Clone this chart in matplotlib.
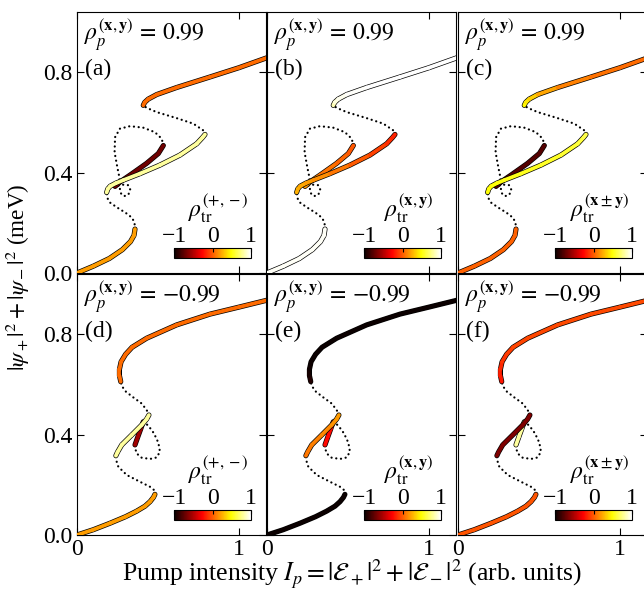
import matplotlib
matplotlib.use("Agg")
import matplotlib.pyplot as plt
from matplotlib.collections import LineCollection
from matplotlib.cm import ScalarMappable
from matplotlib.colors import Normalize

plt.rcParams['font.family'] = ['Liberation Serif', 'DejaVu Serif']
plt.rcParams['mathtext.fontset'] = 'stix'
plt.rcParams['font.size'] = 17

# ---- branch geometry, rho_p = +0.99 (top row) ----
low_x_p = [0.0, 0.10, 0.20, 0.28, 0.33, 0.352, 0.358]
low_y_p = [0.0, 0.027, 0.058, 0.093, 0.125, 0.150, 0.175]
dl_x_p = [0.358, 0.355, 0.340, 0.300, 0.250, 0.205, 0.186, 0.183]
dl_y_p = [0.175, 0.200, 0.220, 0.240, 0.260, 0.280, 0.300, 0.321]
mid_x_p = [0.183, 0.190, 0.205, 0.240, 0.286, 0.389, 0.512, 0.636, 0.739, 0.775, 0.790]
mid_y_p = [0.321, 0.335, 0.346, 0.358, 0.370, 0.396, 0.430, 0.470, 0.515, 0.540, 0.552]
du_x_p = [0.790, 0.780, 0.718, 0.615, 0.492, 0.430, 0.409]
du_y_p = [0.552, 0.568, 0.595, 0.617, 0.641, 0.658, 0.668]
up_x_p = [0.409, 0.418, 0.440, 0.492, 0.615, 0.821, 1.00, 1.17]
up_y_p = [0.668, 0.680, 0.693, 0.711, 0.739, 0.781, 0.818, 0.857]
iso_x_p = [0.235, 0.270, 0.327, 0.430, 0.502, 0.533]
iso_y_p = [0.345, 0.365, 0.390, 0.437, 0.476, 0.508]
di_x_p = [0.533, 0.523, 0.481, 0.409, 0.327, 0.265, 0.235, 0.232, 0.249, 0.262,
          0.262, 0.270, 0.290, 0.317, 0.329, 0.315, 0.280, 0.235]
di_y_p = [0.508, 0.535, 0.561, 0.579, 0.585, 0.575, 0.541, 0.481, 0.421, 0.380,
          0.345, 0.318, 0.306, 0.312, 0.332, 0.350, 0.352, 0.345]

# ---- branch geometry, rho_p = -0.99 (bottom row) ----
low_x_m = [0.0, 0.10, 0.204, 0.30, 0.368, 0.420, 0.451, 0.472, 0.481]
low_y_m = [0.0, 0.021, 0.047, 0.073, 0.095, 0.115, 0.133, 0.150, 0.162]
dl_x_m = [0.481, 0.474, 0.451, 0.389, 0.307, 0.255, 0.241, 0.240]
dl_y_m = [0.162, 0.180, 0.192, 0.212, 0.239, 0.272, 0.300, 0.316]
mid_x_m = [0.240, 0.250, 0.276, 0.337, 0.399, 0.430, 0.444]
mid_y_m = [0.316, 0.330, 0.359, 0.398, 0.438, 0.462, 0.478]
du_x_m = [0.444, 0.430, 0.399, 0.348, 0.302, 0.276, 0.270]
du_y_m = [0.478, 0.498, 0.524, 0.548, 0.571, 0.594, 0.611]
up_x_m = [0.270, 0.262, 0.262, 0.272, 0.300, 0.340, 0.430, 0.615, 0.821, 1.00, 1.17]
up_y_m = [0.611, 0.635, 0.660, 0.690, 0.720, 0.748, 0.784, 0.837, 0.880, 0.908, 0.935]
iso_x_m = [0.358, 0.375, 0.392, 0.409]
iso_y_m = [0.359, 0.390, 0.420, 0.451]
di_x_m = [0.409, 0.440, 0.475, 0.502, 0.512, 0.492, 0.451, 0.399, 0.368, 0.358, 0.358]
di_y_m = [0.451, 0.436, 0.405, 0.368, 0.332, 0.309, 0.303, 0.308, 0.325, 0.349, 0.359]

# ---- rho_tr values along each stable branch (scalar = uniform) ----
rho_a = dict(low=0.2, mid=0.8, up=0.05, iso=-0.7)
rho_b = dict(low=0.98,
             mid=[0.25, 0.25, 0.24, 0.22, 0.18, 0.12, 0.04, -0.05, -0.12, -0.16, -0.18],
             up=[0.8, 0.9, 0.95, 0.98, 1.0, 1.0, 1.0, 1.0],
             iso=[0.2, 0.15, 0.1, 0.05, 0.0, -0.02])
rho_c = dict(low=0.02,
             mid=[0.5, 0.5, 0.5, 0.5, 0.52, 0.55, 0.55, 0.58, 0.6, 0.62, 0.65],
             up=[0.5, 0.45, 0.4, 0.3, 0.15, 0.08, 0.05, 0.05],
             iso=-0.78)
rho_d = dict(low=0.2, mid=0.8, up=0.05, iso=-0.55)
rho_e = dict(low=-1.0,
             mid=[0.08, 0.08, 0.1, 0.12, 0.15, 0.18, 0.2],
             up=[-0.9, -0.95, -0.98, -1.0, -1.0, -1.0, -1.0, -1.0, -1.0, -1.0, -1.0],
             iso=-0.25)
rho_f = dict(low=-0.02, mid=-0.65,
             up=[-0.22, -0.2, -0.17, -0.14, -0.1, -0.08, -0.06, -0.05, -0.05, -0.05, -0.05],
             iso=0.8)

panel_letters = ['(a)', '(b)', '(c)', '(d)', '(e)', '(f)']
rho_p_text = [r'$\rho_p^{(\mathbf{x},\mathbf{y})}\,=\,0.99$',
              r'$\rho_p^{(\mathbf{x},\mathbf{y})}\,=\,{-}0.99$']
cbar_labels = [r'$\rho_{\rm tr}^{(+,-)}$', r'$\rho_{\rm tr}^{(\mathbf{x},\mathbf{y})}$',
               r'$\rho_{\rm tr}^{(\mathbf{x}\pm\mathbf{y})}$']

geom_p = dict(low=(low_x_p, low_y_p), dl=(dl_x_p, dl_y_p), mid=(mid_x_p, mid_y_p),
              du=(du_x_p, du_y_p), up=(up_x_p, up_y_p), iso=(iso_x_p, iso_y_p),
              di=(di_x_p, di_y_p))
geom_m = dict(low=(low_x_m, low_y_m), dl=(dl_x_m, dl_y_m), mid=(mid_x_m, mid_y_m),
              du=(du_x_m, du_y_m), up=(up_x_m, up_y_m), iso=(iso_x_m, iso_y_m),
              di=(di_x_m, di_y_m))

cmap = plt.get_cmap('hot')
norm = Normalize(-1, 1)


def stable(ax, x, y, c):
    if not isinstance(c, list):
        c = [c] * len(x)
    ax.plot(x, y, color='k', lw=3.7, solid_capstyle='round', solid_joinstyle='round', zorder=3)
    segs = [[(x[i], y[i]), (x[i + 1], y[i + 1])] for i in range(len(x) - 1)]
    cv = [(c[i] + c[i + 1]) / 2 for i in range(len(x) - 1)]
    lc = LineCollection(segs, cmap=cmap, norm=norm, linewidths=2.7, capstyle='round', zorder=3)
    lc.set_array(cv)
    ax.add_collection(lc)


def unstable(ax, x, y):
    ax.plot(x, y, color='k', lw=1.6, ls=(0, (0.05, 2.1)), dash_capstyle='round', zorder=2)


W, H = 644, 591
lefts = [77, 267, 458]
tops = [12, 274]
pw, ph = 189, 261

fig = plt.figure(figsize=(W / 100, H / 100), dpi=100)
rhos = [rho_a, rho_b, rho_c, rho_d, rho_e, rho_f]

for r in range(2):
    geom = geom_p if r == 0 else geom_m
    for col in range(3):
        k = r * 3 + col
        ax = fig.add_axes([lefts[col] / W, 1 - (tops[r] + ph) / H, pw / W, ph / H])
        rho = rhos[k]
        unstable(ax, *geom['dl'])
        unstable(ax, *geom['du'])
        unstable(ax, *geom['di'])
        stable(ax, *geom['low'], rho['low'])
        stable(ax, *geom['iso'], rho['iso'])
        stable(ax, *geom['mid'], rho['mid'])
        stable(ax, *geom['up'], rho['up'])

        ax.set_xlim(0, pw / 162)
        ax.set_ylim(0, ph / 251)
        ax.set_xticks([0, 1])
        ax.set_yticks([0, 0.4, 0.8])
        ax.tick_params(direction='in', top=True, right=True, length=5, width=0.8,
                       labelsize=17, pad=3)
        if col == 0:
            ax.set_yticklabels(['0.0', '0.4', '0.8'])
        else:
            ax.set_yticklabels([])
        if r == 0:
            ax.set_xticklabels([])
        else:
            ax.set_xticklabels(['0', '1'])

        ax.text(0.035, 0.89, rho_p_text[r], transform=ax.transAxes, fontsize=17,
                va='baseline', ha='left')
        ax.text(0.04, 0.757, panel_letters[k], transform=ax.transAxes, fontsize=17,
                va='baseline', ha='left')

        cax = ax.inset_axes([0.515, 0.057, 0.404, 0.037])
        cb = fig.colorbar(ScalarMappable(norm=norm, cmap=cmap), cax=cax,
                          orientation='horizontal', ticks=[-1, 0, 1])
        cax.xaxis.set_ticks_position('top')
        cax.tick_params(direction='in', length=3, width=0.8, pad=1, labelsize=17)
        cb.outline.set_linewidth(0.8)
        ax.text(0.75, 0.215, cbar_labels[col], transform=ax.transAxes, fontsize=17,
                va='baseline', ha='center')

fig.text(0.028, 0.531, r'$|\psi_+|^2+|\psi_-|^2$ (meV)', rotation=90,
         ha='center', va='center', fontsize=16.7)
fig.text(0.547, 0.016, r'Pump intensity $I_p=|\mathcal{E}_+|^2+|\mathcal{E}_-|^2$ (arb. units)',
         ha='center', va='baseline', fontsize=18.5)

fig.savefig('out.png', dpi=100)
